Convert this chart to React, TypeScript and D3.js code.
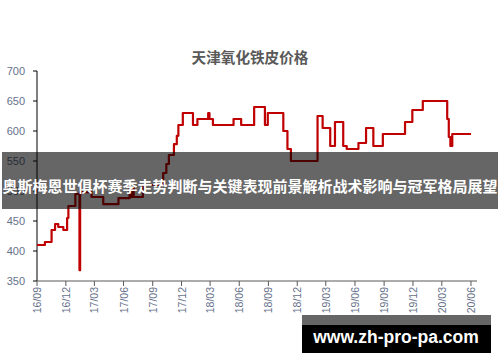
import React from "react";
import * as d3 from "d3";

const title = "天津氧化铁皮价格";
const overlayText = "奥斯梅恩世俱杯赛季走势判断与关键表现前景解析战术影响与冠军格局展望";
const watermark = "www.zh-pro-pa.com";

const changeDates = [
  "2016-09-01", "2016-09-26", "2016-10-17", "2016-10-28", "2016-11-07", "2016-11-23",
  "2016-12-05", "2016-12-09", "2016-12-31", "2017-01-13", "2017-01-15", "2017-02-20",
  "2017-03-29", "2017-05-16", "2017-06-20", "2017-06-23", "2017-06-30", "2017-07-03",
  "2017-08-01", "2017-10-04", "2017-10-14", "2017-10-22", "2017-11-07", "2017-11-16",
  "2017-11-21", "2017-12-05", "2018-01-06", "2018-01-20", "2018-02-23", "2018-02-27",
  "2018-03-10", "2018-05-14", "2018-06-07", "2018-07-18", "2018-08-21", "2018-08-30",
  "2018-10-18", "2018-10-31", "2018-11-11", "2019-02-03", "2019-02-19", "2019-03-15",
  "2019-03-30", "2019-04-25", "2019-05-06", "2019-06-12", "2019-07-06", "2019-07-29",
  "2019-08-28", "2019-11-06", "2019-11-29", "2020-01-01", "2020-03-18", "2020-03-23",
  "2020-03-28", "2020-04-03", "2020-06-01",
];
const prices = [
  410, 415, 435, 445, 440, 435,
  455, 475, 495, 368, 498, 490,
  478, 488, 505, 490, 505, 490,
  510, 530, 545, 560, 578, 592,
  610, 630, 610, 620, 630, 620,
  610, 620, 610, 640, 610, 630,
  600, 570, 550, 625, 605, 575,
  615, 575, 570, 580, 605, 575,
  595, 615, 635, 650, 620, 590,
  575, 595, 595,
];

const yTicks = [350, 400, 450, 500, 550, 600, 650, 700];
const xTickDates = [
  "2016-09-01", "2016-12-01", "2017-03-01", "2017-06-01", "2017-09-01", "2017-12-01",
  "2018-03-01", "2018-06-01", "2018-09-01", "2018-12-01", "2019-03-01", "2019-06-01",
  "2019-09-01", "2019-12-01", "2020-03-01", "2020-06-01",
];
const xTickLabels = [
  "16/09", "16/12", "17/03", "17/06", "17/09", "17/12", "18/03", "18/06",
  "18/09", "18/12", "19/03", "19/06", "19/09", "19/12", "20/03", "20/06",
];
const xDomain = ["2016-09-01", "2020-06-20"];

const W = 500;
const H = 362;
const left = 37;
const right = 477;
const top = 71;
const bottom = 281;

export default function App() {
  const parse = d3.utcParse("%Y-%m-%d");
  const x = d3
    .scaleUtc()
    .domain([parse(xDomain[0])!, parse(xDomain[1])!])
    .range([left, right]);
  const y = d3.scaleLinear().domain([350, 700]).range([bottom, top]);

  const pts = changeDates.map((d, i) => [x(parse(d)!), y(prices[i])] as [number, number]);
  const line = d3.line().curve(d3.curveStepAfter)(pts) || "";

  const labelColor = "#66718a";
  const font = "'Liberation Sans', Arial, sans-serif";
  const cjk = "'Noto Sans CJK SC', 'Noto Sans', sans-serif";

  return (
    <svg
      width={W}
      height={H}
      style={{ position: "absolute", left: 0, top: 0, background: "#fff" }}
    >
      <rect x={0} y={0} width={W} height={H} fill="#fff" />
      <text
        x={250}
        y={56}
        textAnchor="middle"
        dominantBaseline="central"
        fontFamily={cjk}
        fontWeight="bold"
        fontSize={14.6}
        fill="#595959"
      >
        {title}
      </text>

      {/* y axis */}
      <line x1={left} x2={left} y1={top} y2={bottom} stroke="#000" strokeWidth={1} />
      {yTicks.map((t) => (
        <g key={t}>
          <line x1={left - 4} x2={left} y1={y(t)} y2={y(t)} stroke="#000" strokeWidth={1} />
          <text
            x={25}
            y={y(t)}
            textAnchor="end"
            dominantBaseline="central"
            fontFamily={font}
            fontSize={11}
            fill={labelColor}
          >
            {t}
          </text>
        </g>
      ))}

      {/* x axis */}
      <line x1={left} x2={right} y1={bottom} y2={bottom} stroke="#595959" strokeWidth={1} />
      {xTickDates.map((d, i) => {
        const xx = x(parse(d)!);
        return (
          <g key={d}>
            <line x1={xx} x2={xx} y1={bottom} y2={bottom + 5} stroke="#595959" strokeWidth={1} />
            <text
              transform={`translate(${xx},${bottom + 6}) rotate(-90)`}
              textAnchor="end"
              dominantBaseline="central"
              fontFamily={font}
              fontSize={10.5}
              fill={labelColor}
            >
              {xTickLabels[i]}
            </text>
          </g>
        );
      })}

      <path d={line} fill="none" stroke="#c00000" strokeWidth={2.2} strokeLinejoin="round" />

      {/* overlay band */}
      <rect x={2} y={152} width={496} height={57} fill="rgba(0,0,0,0.6)" />
      <text
        x={250}
        y={185}
        textAnchor="middle"
        dominantBaseline="central"
        fontFamily={cjk}
        fontWeight="bold"
        fontSize={15}
        fill="#fff"
      >
        {overlayText}
      </text>

      {/* watermark */}
      <rect x={302} y={315} width={189} height={10} fill="rgba(0,0,0,0.6)" />
      <rect x={302} y={325} width={189} height={28} fill="#000" />
      <text
        x={396}
        y={342.5}
        textAnchor="middle"
        fontFamily={font}
        fontWeight="bold"
        fontSize={17.5}
        fill="#fff"
      >
        {watermark}
      </text>
    </svg>
  );
}
